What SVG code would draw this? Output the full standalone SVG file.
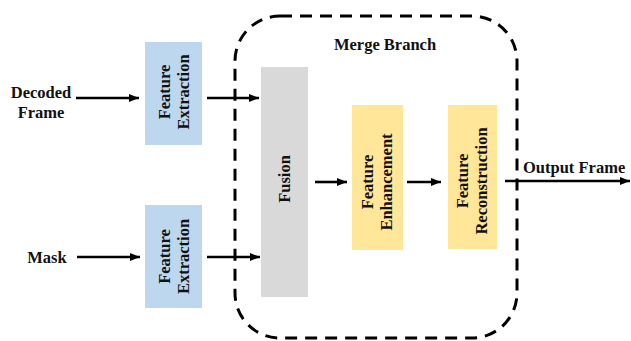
<svg xmlns="http://www.w3.org/2000/svg" width="631" height="341" viewBox="0 0 631 341">
<defs>
<marker id="ah" viewBox="0 0 10 8" refX="10" refY="4" markerWidth="10" markerHeight="8" markerUnits="userSpaceOnUse" orient="auto">
<path d="M0,0 L10,4 L0,8 Z" fill="#000"/>
</marker>
</defs>
<style>
text{font-family:"Liberation Serif","Times New Roman",serif;font-weight:bold;font-size:16.5px;fill:#111;}
.c{text-anchor:middle;}
.blue{fill:#BDD7EE;}
.yellow{fill:#FFE699;}
.gray{fill:#D9D9D9;}
.edge{stroke:#000;stroke-width:2.6;fill:none;marker-end:url(#ah);}
.dash{fill:none;stroke:#000;stroke-width:3;stroke-dasharray:12 8;}
</style>
<rect width="631" height="341" fill="#fff"/>
<g id="merge-branch">
<rect class="dash" x="235" y="16" width="282" height="322" rx="45" ry="45"/>
<text class="c" x="385" y="50">Merge Branch</text>
</g>
<g id="decoded-frame">
<text class="c" x="41" y="98">Decoded</text>
<text class="c" x="41" y="118">Frame</text>
</g>
<g id="mask">
<text class="c" x="47" y="263">Mask</text>
</g>
<g id="fe-top">
<rect class="blue" x="145" y="42" width="57" height="103"/>
<text class="c" transform="translate(173.5,92) rotate(-90)" x="0" y="-4">Feature</text>
<text class="c" transform="translate(173.5,92) rotate(-90)" x="0" y="15.5">Extraction</text>
</g>
<g id="fe-bottom">
<rect class="blue" x="145" y="205" width="57" height="103"/>
<text class="c" transform="translate(173.5,256.5) rotate(-90)" x="0" y="-4">Feature</text>
<text class="c" transform="translate(173.5,256.5) rotate(-90)" x="0" y="15.5">Extraction</text>
</g>
<g id="fusion">
<rect class="gray" x="261" y="67" width="47" height="230"/>
<text class="c" transform="translate(284.5,179) rotate(-90)" x="0" y="5.5">Fusion</text>
</g>
<g id="enhancement">
<rect class="yellow" x="352" y="105" width="51" height="145"/>
<text class="c" transform="translate(377.5,182) rotate(-90)" x="0" y="-4.5">Feature</text>
<text class="c" transform="translate(377.5,182) rotate(-90)" x="0" y="14.5">Enhancement</text>
</g>
<g id="reconstruction">
<rect class="yellow" x="448" y="105" width="49" height="144"/>
<text class="c" transform="translate(472.5,181) rotate(-90)" x="0" y="-4.5">Feature</text>
<text class="c" transform="translate(472.5,181) rotate(-90)" x="0" y="14.5">Reconstruction</text>
</g>
<g id="output-frame">
<text x="523" y="173">Output Frame</text>
</g>
<g id="connectors">
<line class="edge" x1="76" y1="98" x2="139" y2="98"/>
<line class="edge" x1="207" y1="98" x2="259" y2="98"/>
<line class="edge" x1="77" y1="257" x2="140" y2="257"/>
<line class="edge" x1="207" y1="257" x2="260" y2="257"/>
<line class="edge" x1="315" y1="182" x2="347" y2="182"/>
<line class="edge" x1="407" y1="182" x2="441" y2="182"/>
<line class="edge" x1="505" y1="181" x2="630" y2="181"/>
</g>
</svg>
